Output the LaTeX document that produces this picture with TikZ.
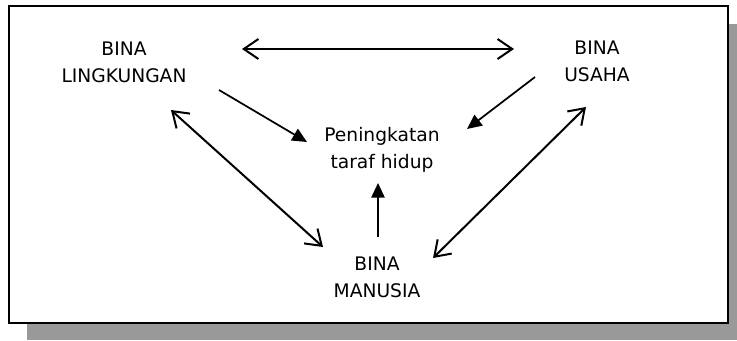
\documentclass[tikz,border=0pt]{standalone}
\usepackage{fontspec}
\setmainfont{DejaVu Sans}
\usetikzlibrary{arrows.meta}
\begin{document}
\begin{tikzpicture}[x=0.75pt,y=-0.75pt,
  lbl/.style={align=center,font=\fontsize{14pt}{20pt}\selectfont,inner sep=0pt},
  dbl/.style={line width=1.5pt,{Straight Barb[length=11pt,width=15pt,line width=1.5pt]}-{Straight Barb[length=11pt,width=15pt,line width=1.5pt]}},
  one/.style={line width=1.3pt,-{Triangle[length=11pt,width=10pt]}}]
\useasboundingbox (0,0) rectangle (737,340);
\fill[fill={rgb,255:red,153;green,153;blue,153}] (27,24) rectangle (737,340);
\draw[line width=1.6pt,fill=white] (9,6) rectangle (728,323);
\node[lbl] (lk) at (124,62) {BINA\\LINGKUNGAN};
\node[lbl] (us) at (597,61) {BINA\\USAHA};
\node[lbl] (pt) at (382,150) {Peningkatan\\taraf hidup};
\node[lbl] (mn) at (377,277) {BINA\\MANUSIA};
\coordinate (t1) at (242,49);
\coordinate (t2) at (514,49);
\coordinate (a1) at (219,90);
\coordinate (a2) at (307,142);
\coordinate (b1) at (535,77);
\coordinate (b2) at (467,129);
\coordinate (c1) at (171,110);
\coordinate (c2) at (323,247);
\coordinate (d1) at (586,107);
\coordinate (d2) at (433,258);
\coordinate (e1) at (378,237);
\coordinate (e2) at (378,183);
\draw[dbl] (t1) -- (t2);
\draw[one] (a1) -- (a2);
\draw[one] (b1) -- (b2);
\draw[dbl] (c1) -- (c2);
\draw[dbl] (d1) -- (d2);
\draw[one] (e1) -- (e2);
\end{tikzpicture}
\end{document}
